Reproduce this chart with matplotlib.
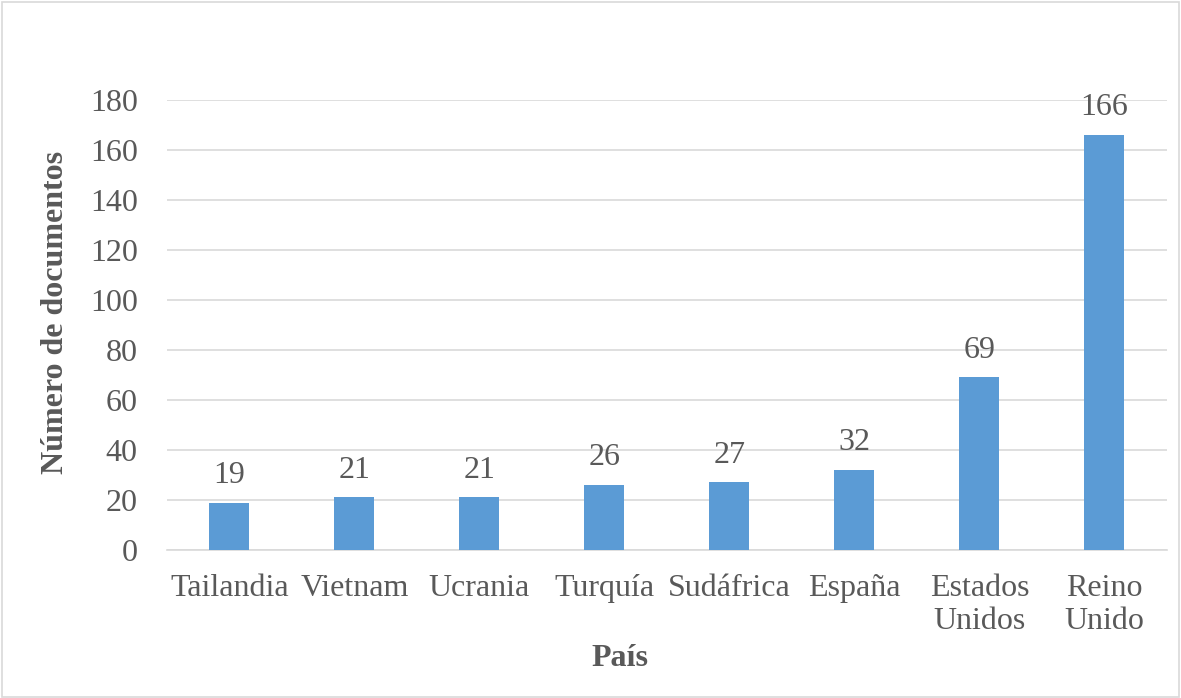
import matplotlib
matplotlib.use("Agg")
import matplotlib.pyplot as plt
from matplotlib.patches import Rectangle

paises = ["Tailandia", "Vietnam", "Ucrania", "Turquía", "Sudáfrica", "España",
          "Estados\nUnidos", "Reino\nUnido"]
documentos = [19, 21, 21, 26, 27, 32, 69, 166]
y_ticks = [0, 20, 40, 60, 80, 100, 120, 140, 160, 180]

plt.rcParams["font.family"] = ["Liberation Serif", "DejaVu Serif"]
text_color = "#595959"
fs = 23

fig = plt.figure(figsize=(11.81, 6.98), dpi=100)
fig.patches.append(Rectangle((0.002, 0.002), 0.996, 0.995, transform=fig.transFigure,
                             fill=False, edgecolor="#D9D9D9", linewidth=1.2))
ax = fig.add_axes([0.1414, 0.212, 0.8466, 0.645])

x = list(range(len(paises)))
ax.bar(x, documentos, width=0.32, color="#5B9BD5", zorder=3)
for xi, v in zip(x, documentos):
    ax.annotate(str(v), (xi, v), xytext=(0, 9), textcoords="offset points",
                ha="center", va="bottom", fontsize=fs, color=text_color)

ax.set_ylim(0, 180)
ax.set_xlim(-0.5, len(paises) - 0.5)
ax.set_yticks(y_ticks)
ax.set_xticks(x)
ax.set_xticklabels(paises, linespacing=1.22)
ax.tick_params(axis="both", length=0, labelsize=fs, colors=text_color)
ax.tick_params(axis="y", pad=21)
ax.tick_params(axis="x", pad=17)
ax.yaxis.grid(True, color="#D9D9D9", linewidth=1.2, zorder=0)
for s in ["top", "right", "left"]:
    ax.spines[s].set_visible(False)
ax.spines["bottom"].set_color("#D9D9D9")
ax.spines["bottom"].set_linewidth(1.2)

ax.set_ylabel("Número de documentos", fontsize=fs, fontweight="bold", color=text_color, va="center")
ax.yaxis.set_label_coords(-0.112, 0.527)
ax.set_xlabel("País", fontsize=fs, fontweight="bold", color=text_color, va="center")
ax.xaxis.set_label_coords(0.453, -0.24)

fig.savefig("out.png", dpi=100)
